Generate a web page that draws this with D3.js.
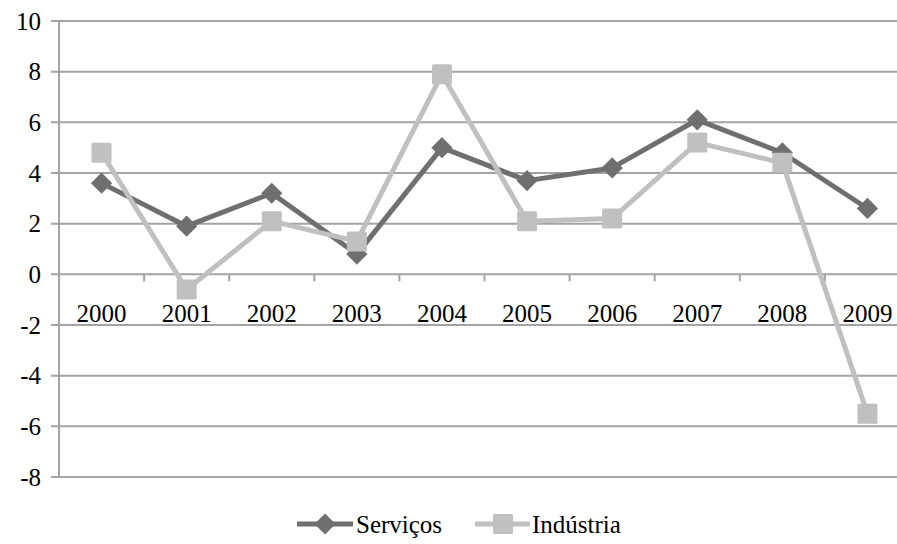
<!DOCTYPE html>
<html><head><meta charset="utf-8">
<script src="https://cdn.jsdelivr.net/npm/d3@7"></script>
<style>
svg text, text { font-family: "Liberation Serif", "Times New Roman", Times, serif !important; }
</style>
</head><body style="margin:0;background:#fff">
<svg id="c" width="897" height="544"></svg>
<script>
const years = ["2000","2001","2002","2003","2004","2005","2006","2007","2008","2009"];
const servicos = [3.6, 1.9, 3.2, 0.8, 5.0, 3.7, 4.2, 6.1, 4.8, 2.6];
const industria = [4.8, -0.6, 2.1, 1.3, 7.9, 2.1, 2.2, 5.2, 4.4, -5.5];
const yTicks = [10, 8, 6, 4, 2, 0, -2, -4, -6, -8];
const seriesNames = ["Serviços", "Indústria"];

const svg = d3.select("#c");
const FF = "Liberation Serif";
const pL = 59, pR = 910, pT = 21, pB = 477;
const x = d3.scaleBand().domain(years).range([pL, pR]);
const y = d3.scaleLinear().domain([-8, 10]).range([pB, pT]);
const grid = "#a3a3a3";

function txt(sel) {
  return sel.attr("font-family", FF).attr("font-size", 25)
    .attr("style", "font-family:'Liberation Serif',serif !important;font-size:25px !important;fill:#000");
}

svg.append("g").selectAll("line").data(yTicks).join("line")
  .attr("x1", pL - 8).attr("x2", pR).attr("y1", d => y(d)).attr("y2", d => y(d))
  .attr("stroke", grid).attr("stroke-width", 2);
svg.append("line").attr("x1", pL).attr("x2", pL).attr("y1", pT).attr("y2", pB)
  .attr("stroke", grid).attr("stroke-width", 2);
svg.append("g").selectAll("line").data(years.slice(1)).join("line")
  .attr("x1", d => x(d)).attr("x2", d => x(d)).attr("y1", y(0)).attr("y2", y(0) + 7)
  .attr("stroke", grid).attr("stroke-width", 2);
txt(svg.append("g").selectAll("text").data(yTicks).join("text"))
  .attr("x", 41).attr("y", d => y(d) + 8.5).attr("text-anchor", "end")
  .text(d => d);
txt(svg.append("g").selectAll("text").data(years).join("text"))
  .attr("x", d => x(d) + x.bandwidth() / 2).attr("y", 322).attr("text-anchor", "middle")
  .text(d => d);

const cx = d => x(d) + x.bandwidth() / 2;
const line = d3.line().x((d, i) => cx(years[i])).y(d => y(d));
const cS = "#6f6f6f", cI = "#c0c0c0";

svg.append("path").datum(servicos).attr("d", line).attr("fill", "none").attr("stroke", cS).attr("stroke-width", 5).attr("stroke-linejoin", "round");
svg.append("g").selectAll("rect").data(servicos).join("rect")
  .attr("x", -7.5).attr("y", -7.5).attr("width", 15).attr("height", 15)
  .attr("transform", (d, i) => `translate(${cx(years[i])},${y(d)}) rotate(45)`).attr("fill", cS);

svg.append("path").datum(industria).attr("d", line).attr("fill", "none").attr("stroke", cI).attr("stroke-width", 5).attr("stroke-linejoin", "round");
svg.append("g").selectAll("rect").data(industria).join("rect")
  .attr("x", (d, i) => cx(years[i]) - 10).attr("y", d => y(d) - 10).attr("width", 20).attr("height", 20)
  .attr("rx", 1.5).attr("fill", cI);

const ly = 524;
const lg = svg.append("g");
lg.append("line").attr("x1", 297).attr("x2", 353).attr("y1", ly).attr("y2", ly).attr("stroke", cS).attr("stroke-width", 5);
lg.append("rect").attr("x", -7.5).attr("y", -7.5).attr("width", 15).attr("height", 15)
  .attr("transform", `translate(325,${ly}) rotate(45)`).attr("fill", cS);
txt(lg.append("text")).attr("x", 356).attr("y", ly + 8.5).text(seriesNames[0]);
lg.append("line").attr("x1", 475).attr("x2", 530).attr("y1", ly).attr("y2", ly).attr("stroke", cI).attr("stroke-width", 5);
lg.append("rect").attr("x", 493).attr("y", ly - 10).attr("width", 20).attr("height", 20).attr("rx", 1.5).attr("fill", cI);
txt(lg.append("text")).attr("x", 532).attr("y", ly + 8.5).text(seriesNames[1]);
</script></body></html>
